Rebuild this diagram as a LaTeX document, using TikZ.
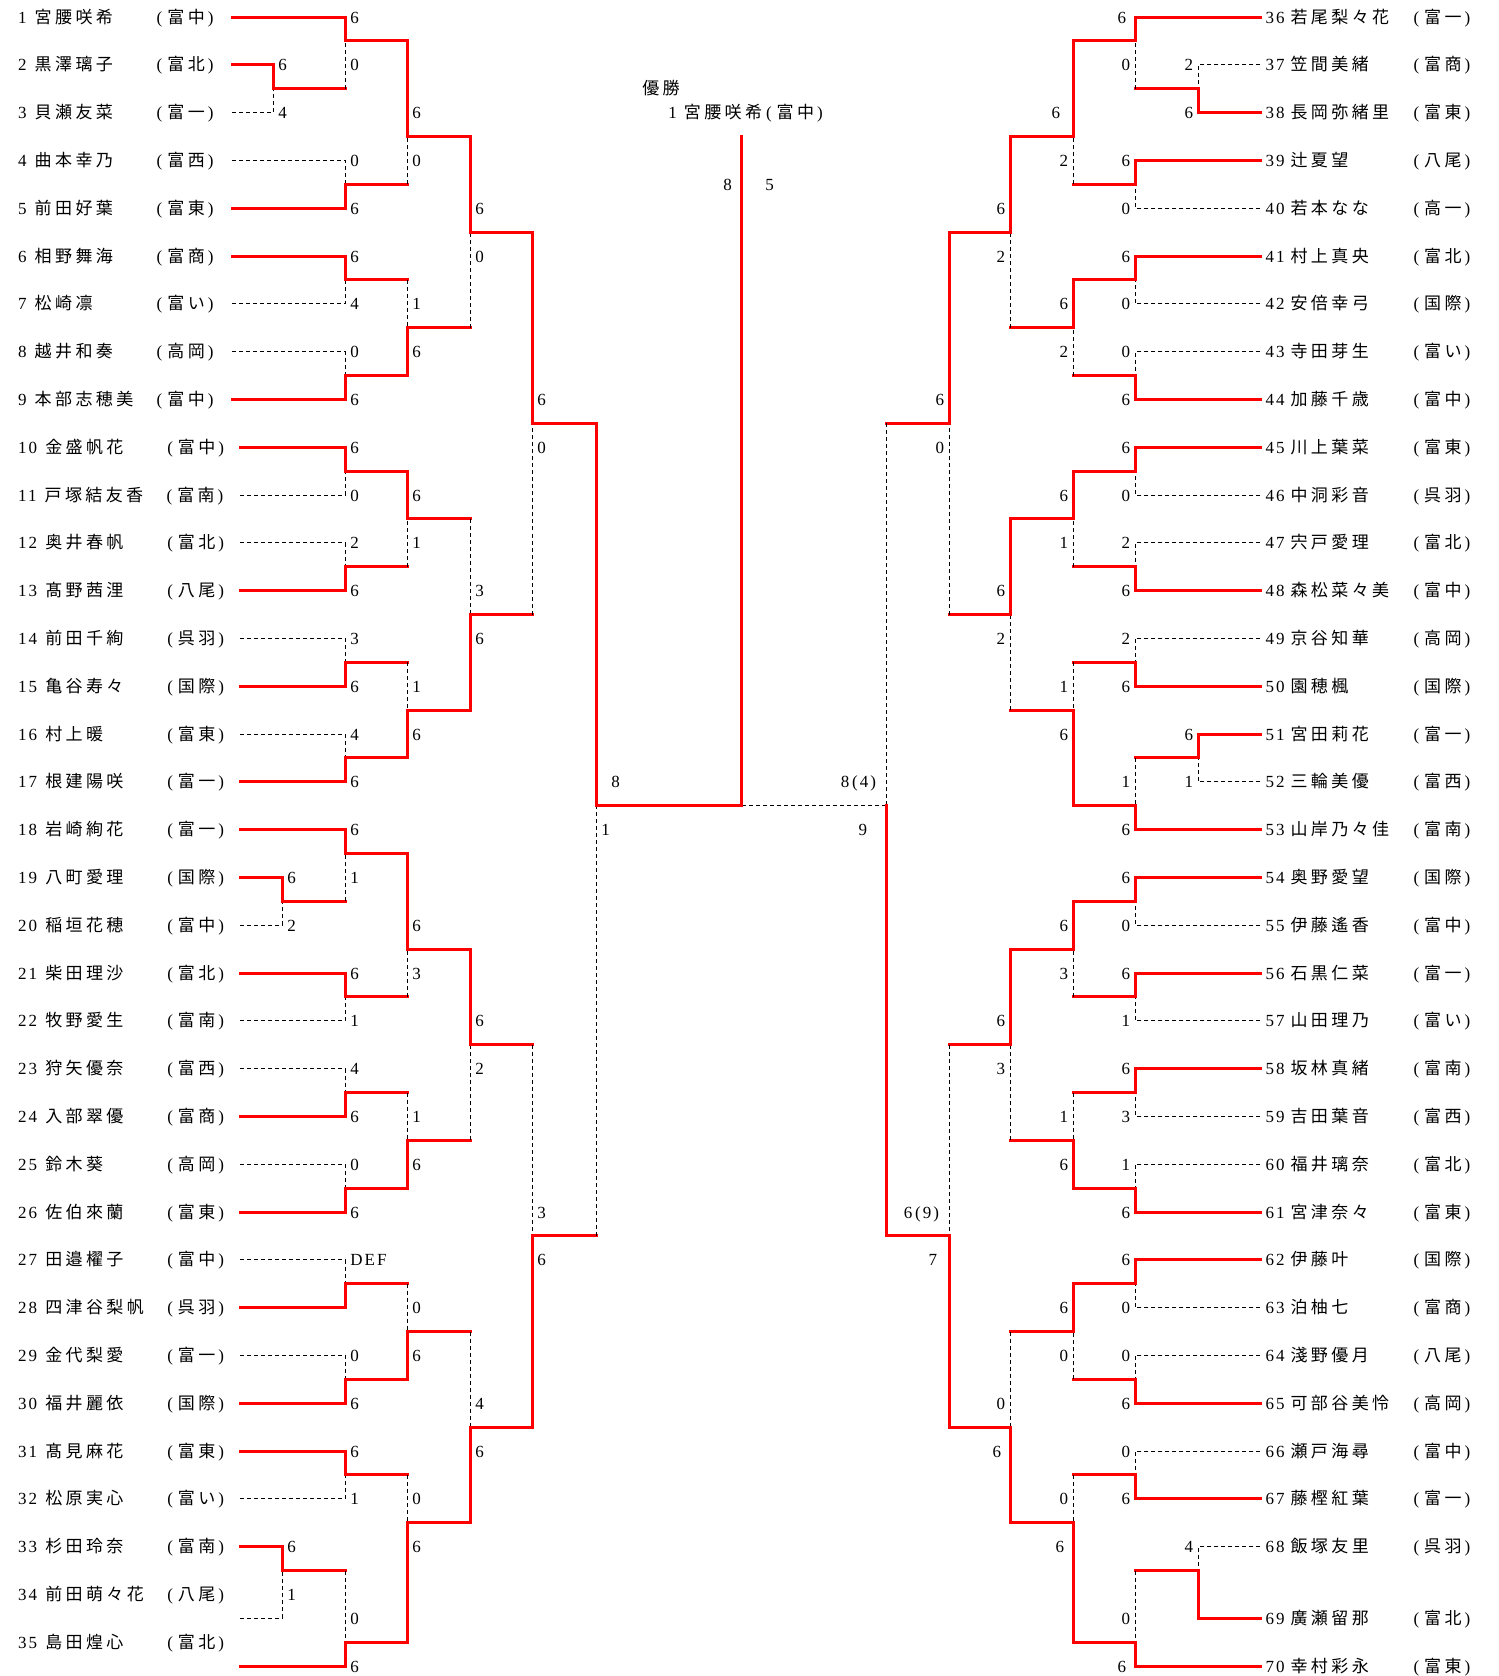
\documentclass[tikz,border=0pt]{standalone}
\usepackage{fontspec}
\setmainfont{Liberation Serif}[LetterSpace=12]
\newfontfamily\jp{Noto Sans CJK JP}[LetterSpace=20]
\usetikzlibrary{positioning}

\newcommand\school[1]{(\hspace{5pt}{\jp #1}\hspace{3pt})}

\tikzset{
  win/.style={red, line width=3pt, line cap=rect},
  lose/.style={black, line width=0.9pt, dash pattern=on 4pt off 3pt},
  player/.style={anchor=base west, inner sep=0pt, yshift=-6pt, font=\fontsize{17}{19}\selectfont},
  scl/.style={anchor=base west, inner sep=0pt, xshift=5pt, yshift=-6pt, font=\fontsize{17}{19}\selectfont},
  scr/.style={anchor=base east, inner sep=0pt, xshift=-5pt, yshift=-6pt, font=\fontsize{17}{19}\selectfont},
}

\begin{document}
\begin{tikzpicture}[x=1pt, y=-47.79pt]
\useasboundingbox (0,0.6443) rectangle (1498,35.7065);

% left entries
\foreach \no/\rr/\nm/\sc in {1/1/宮腰咲希/富中, 2/2/黒澤璃子/富北, 3/3/貝瀬友菜/富一, 4/4/曲本幸乃/富西,
    5/5/前田好葉/富東, 6/6/相野舞海/富商, 7/7/松崎凛/富い, 8/8/越井和奏/高岡, 9/9/本部志穂美/富中,
    10/10/金盛帆花/富中, 11/11/戸塚結友香/富南, 12/12/奥井春帆/富北, 13/13/髙野茜浬/八尾,
    14/14/前田千絢/呉羽, 15/15/亀谷寿々/国際, 16/16/村上暖/富東, 17/17/根建陽咲/富一,
    18/18/岩崎絢花/富一, 19/19/八町愛理/国際, 20/20/稲垣花穂/富中, 21/21/柴田理沙/富北,
    22/22/牧野愛生/富南, 23/23/狩矢優奈/富西, 24/24/入部翠優/富商, 25/25/鈴木葵/高岡,
    26/26/佐伯來蘭/富東, 27/27/田邉櫂子/富中, 28/28/四津谷梨帆/呉羽, 29/29/金代梨愛/富一,
    30/30/福井麗依/国際, 31/31/髙見麻花/富東, 32/32/松原実心/富い, 33/33/杉田玲奈/富南,
    34/34/前田萌々花/八尾, 35/35/島田煌心/富北}
  \node[player] (p\no) at (18,\rr) {\no\hspace{8pt}\makebox[122pt][l]{\jp\nm}\school{\sc}};

% right entries
\foreach \no/\rr/\nm/\sc in {36/1/若尾梨々花/富一, 37/2/笠間美緒/富商, 38/3/長岡弥緒里/富東,
    39/4/辻夏望/八尾, 40/5/若本なな/高一, 41/6/村上真央/富北, 42/7/安倍幸弓/国際,
    43/8/寺田芽生/富い, 44/9/加藤千歳/富中, 45/10/川上葉菜/富東, 46/11/中洞彩音/呉羽,
    47/12/宍戸愛理/富北, 48/13/森松菜々美/富中, 49/14/京谷知華/高岡, 50/15/園穂楓/国際,
    51/16/宮田莉花/富一, 52/17/三輪美優/富西, 53/18/山岸乃々佳/富南, 54/19/奥野愛望/国際,
    55/20/伊藤遙香/富中, 56/21/石黒仁菜/富一, 57/22/山田理乃/富い, 58/23/坂林真緒/富南,
    59/24/吉田葉音/富西, 60/25/福井璃奈/富北, 61/26/宮津奈々/富東, 62/27/伊藤叶/国際,
    63/28/泊柚七/富商, 64/29/淺野優月/八尾, 65/30/可部谷美怜/高岡, 66/31/瀬戸海尋/富中,
    67/32/藤樫紅葉/富一, 68/33/飯塚友里/呉羽, 69/34.5/廣瀬留那/富北, 70/35.5/幸村彩永/富東}
  \node[player] (p\no) at (1265,\rr) {\no\hspace{6pt}\makebox[123pt][l]{\jp\nm}\school{\sc}};

% champion
\node[player] (yusho) at (642,2.5) {\jp 優勝};
\node[player] (champ) at (668,3) {1\hspace{7pt}{\jp 宮腰咲希}\hspace{4pt}\school{富中}};

% losing lines
\foreach \xa/\ya/\xb/\yb in {232/3/273/2.5, 232/4/345/4.5, 232/7/345/6.5, 232/8/345/8.5,
    240/11/345/10.5, 240/12/345/12.5, 240/14/345/14.5, 240/16/345/16.5, 240/20/282/19.5,
    240/22/345/21.5, 240/23/345/23.5, 240/25/345/25.5, 240/27/345/27.5, 240/29/345/29.5,
    240/32/345/31.5, 240/34.5/282/33.5,
    1260/2/1198/2.5, 1260/5/1135/4.5, 1260/7/1135/6.5, 1260/8/1135/8.5, 1260/11/1135/10.5,
    1260/12/1135/12.5, 1260/14/1135/14.5, 1260/17/1198/16.5, 1260/20/1135/19.5,
    1260/22/1135/21.5, 1260/24/1135/23.5, 1260/25/1135/25.5, 1260/28/1135/27.5,
    1260/29/1135/29.5, 1260/31/1135/31.5, 1260/33/1198/33.5, 886/17.5/741/17.5}
  \draw[lose] (\xa,\ya) -- (\xb,\ya) -- (\xb,\yb);

% won a round, then lost
\foreach \xa/\ya/\xb/\yb in {273/2.5/345/1.5, 282/19.5/345/18.5, 282/33.5/345/35,
    345/4.5/407/3.5, 345/6.5/407/7.5, 345/12.5/407/11.5, 345/14.5/407/15.5, 345/21.5/407/20.5,
    345/23.5/407/24.5, 345/27.5/407/28.5, 345/31.5/407/32.5, 407/7.5/470/5.5,
    407/11.5/470/13.5, 407/24.5/470/22.5, 407/28.5/470/30.5, 470/13.5/532/9.5,
    470/22.5/532/26.5, 532/26.5/596/17.5,
    1198/2.5/1135/1.5, 1198/16.5/1135/17.5, 1198/33.5/1135/35, 1135/4.5/1073/3.5,
    1135/8.5/1073/7.5, 1135/12.5/1073/11.5, 1135/14.5/1073/15.5, 1135/21.5/1073/20.5,
    1135/23.5/1073/24.5, 1135/29.5/1073/28.5, 1135/31.5/1073/32.5, 1073/7.5/1010/5.5,
    1073/15.5/1010/13.5, 1073/24.5/1010/22.5, 1073/28.5/1010/30.5, 1010/13.5/949/9.5,
    1010/22.5/949/26.5, 949/9.5/886/17.5}
  {\draw[win] (\xa,\ya) -- (\xb,\ya);
   \draw[lose] (\xb,\ya) -- (\xb,\yb);}

% winning lines
\foreach \xa/\ya/\xb/\yb in {232/2/273/2.5, 232/1/345/1.5, 232/5/345/4.5, 232/6/345/6.5,
    232/9/345/8.5, 240/10/345/10.5, 240/13/345/12.5, 240/15/345/14.5, 240/17/345/16.5,
    240/19/282/19.5, 240/18/345/18.5, 240/21/345/21.5, 240/24/345/23.5, 240/26/345/25.5,
    240/28/345/27.5, 240/30/345/29.5, 240/31/345/31.5, 240/33/282/33.5, 240/35.5/345/35,
    345/1.5/407/3.5, 345/8.5/407/7.5, 345/10.5/407/11.5, 345/16.5/407/15.5,
    345/18.5/407/20.5, 345/25.5/407/24.5, 345/29.5/407/28.5, 345/35/407/32.5,
    407/3.5/470/5.5, 407/15.5/470/13.5, 407/20.5/470/22.5, 407/32.5/470/30.5,
    470/5.5/532/9.5, 470/30.5/532/26.5, 532/9.5/596/17.5, 596/17.5/741/3.5,
    1260/3/1198/2.5, 1260/1/1135/1.5, 1260/4/1135/4.5, 1260/6/1135/6.5, 1260/9/1135/8.5,
    1260/10/1135/10.5, 1260/13/1135/12.5, 1260/15/1135/14.5, 1260/16/1198/16.5,
    1260/18/1135/17.5, 1260/19/1135/19.5, 1260/21/1135/21.5, 1260/23/1135/23.5,
    1260/26/1135/25.5, 1260/27/1135/27.5, 1260/30/1135/29.5, 1260/32/1135/31.5,
    1260/34.5/1198/33.5, 1260/35.5/1135/35,
    1135/1.5/1073/3.5, 1135/6.5/1073/7.5, 1135/10.5/1073/11.5, 1135/17.5/1073/15.5,
    1135/19.5/1073/20.5, 1135/25.5/1073/24.5, 1135/27.5/1073/28.5, 1135/35/1073/32.5,
    1073/3.5/1010/5.5, 1073/11.5/1010/13.5, 1073/20.5/1010/22.5, 1073/32.5/1010/30.5,
    1010/5.5/949/9.5, 1010/30.5/949/26.5, 949/26.5/886/17.5}
  \draw[win] (\xa,\ya) -- (\xb,\ya) -- (\xb,\yb);

% scores, left half
\foreach \x/\rr/\s [count=\i] in {273/2/6, 273/3/4, 282/19/6, 282/20/2, 282/33/6, 282/34/1,
    345/1/6, 345/2/0, 345/4/0, 345/5/6, 345/6/6, 345/7/4, 345/8/0, 345/9/6, 345/10/6,
    345/11/0, 345/12/2, 345/13/6, 345/14/3, 345/15/6, 345/16/4, 345/17/6, 345/18/6,
    345/19/1, 345/21/6, 345/22/1, 345/23/4, 345/24/6, 345/25/0, 345/26/6, 345/27/DEF,
    345/29/0, 345/30/6, 345/31/6, 345/32/1, 345/34.5/0, 345/35.5/6,
    407/3/6, 407/4/0, 407/7/1, 407/8/6, 407/11/6, 407/12/1, 407/15/1, 407/16/6, 407/20/6,
    407/21/3, 407/24/1, 407/25/6, 407/28/0, 407/29/6, 407/32/0, 407/33/6,
    470/5/6, 470/6/0, 470/13/3, 470/14/6, 470/22/6, 470/23/2, 470/30/4, 470/31/6,
    532/9/6, 532/10/0, 532/26/3, 532/27/6, 606/17/8, 596/18/1}
  \node[scl] (sl\i) at (\x,\rr) {\s};

% scores, right half
\foreach \x/\rr/\s [count=\i] in {1198/2/2, 1198/3/6, 1198/16/6, 1198/17/1, 1198/33/4,
    1131/1/6, 1135/2/0, 1135/4/6, 1135/5/0, 1135/6/6, 1135/7/0, 1135/8/0, 1135/9/6,
    1135/10/6, 1135/11/0, 1135/12/2, 1135/13/6, 1135/14/2, 1135/15/6, 1135/17/1, 1135/18/6,
    1135/19/6, 1135/20/0, 1135/21/6, 1135/22/1, 1135/23/6, 1135/24/3, 1135/25/1, 1135/26/6,
    1135/27/6, 1135/28/0, 1135/29/0, 1135/30/6, 1135/31/0, 1135/32/6, 1135/34.5/0,
    1131/35.5/6,
    1065/3/6, 1073/4/2, 1073/7/6, 1073/8/2, 1073/11/6, 1073/12/1, 1073/15/1, 1073/16/6,
    1073/20/6, 1073/21/3, 1073/24/1, 1073/25/6, 1073/28/6, 1073/29/0, 1073/32/0, 1069/33/6,
    1010/5/6, 1010/6/2, 1010/13/6, 1010/14/2, 1010/22/6, 1010/23/3, 1010/30/0, 1006/31/6,
    949/9/6, 949/10/0, 944/26/{6\,(9)}, 942/27/7, 881/17/{8\,(4)}, 872/18/9}
  \node[scr] (sr\i) at (\x,\rr) {\s};

% final score
\node[scl, xshift=0pt] (fl) at (718,4.5) {8};
\node[scl, xshift=0pt] (fr) at (760,4.5) {5};
\end{tikzpicture}
\end{document}
